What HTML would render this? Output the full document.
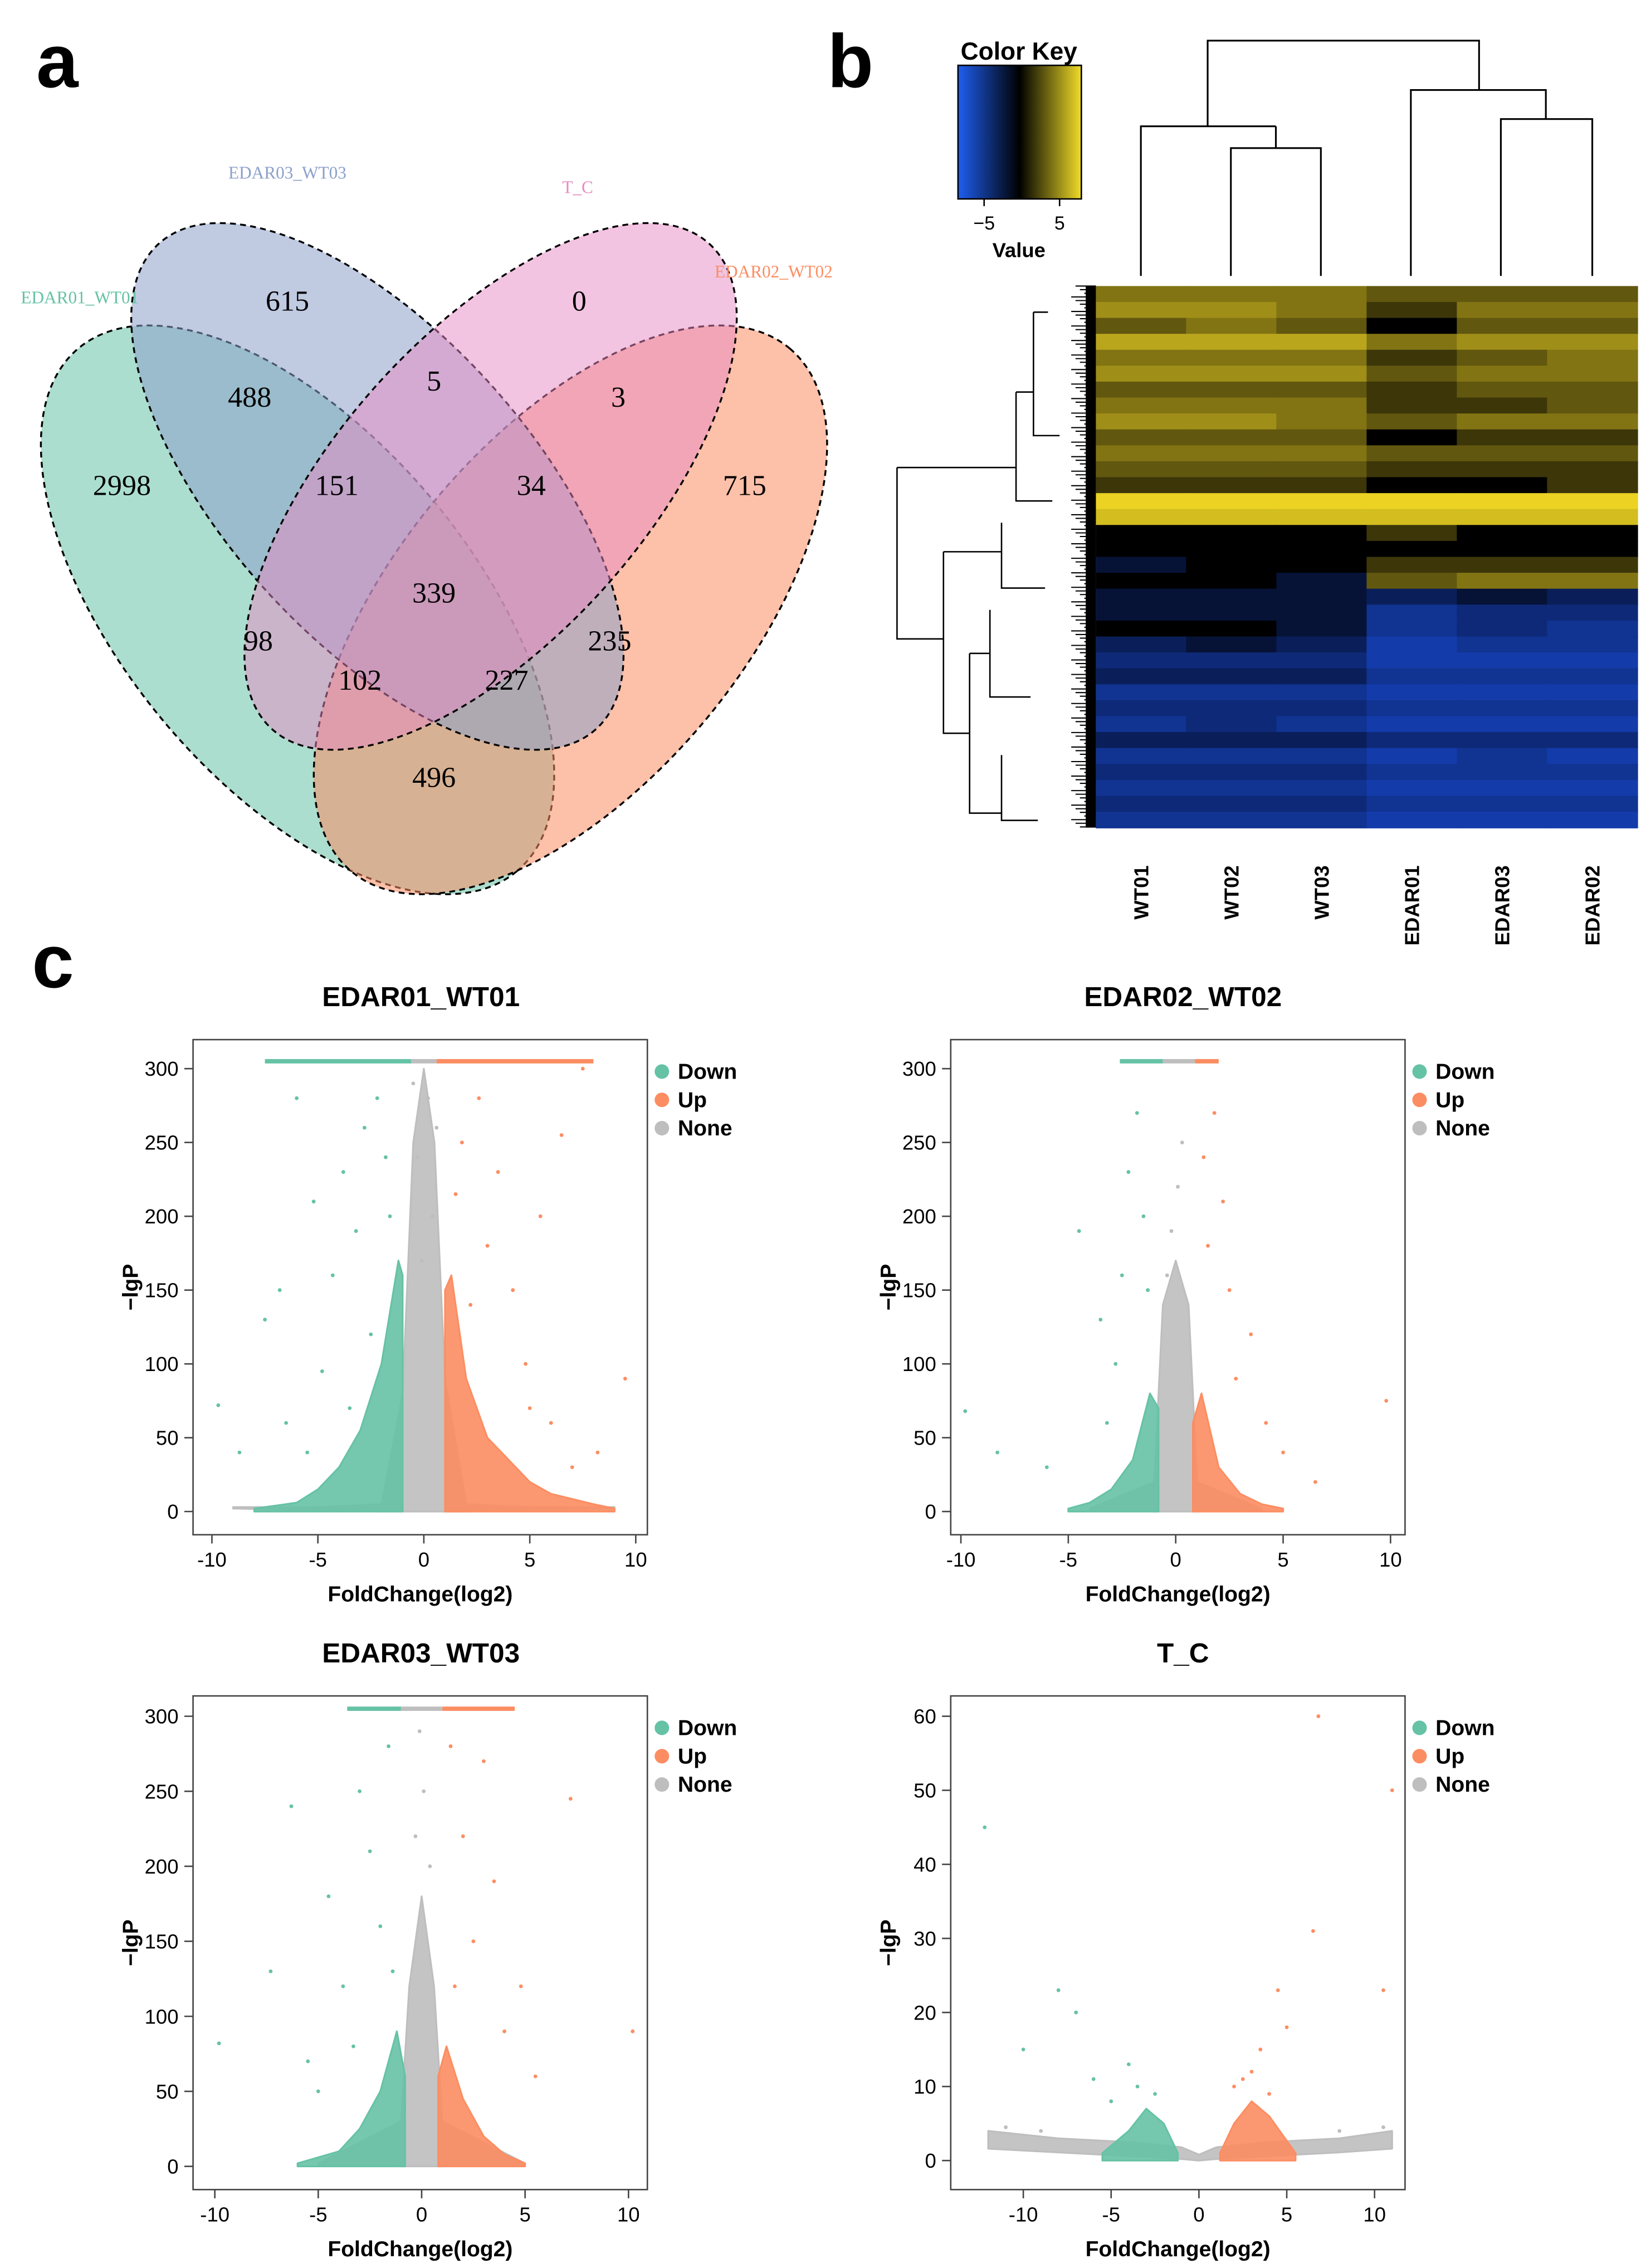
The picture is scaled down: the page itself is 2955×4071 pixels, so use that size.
<!DOCTYPE html>
<html><head><meta charset="utf-8">
<style>
html,body{margin:0;padding:0;background:#fff;}
svg{display:block;}
text{font-family:"Liberation Sans",sans-serif;}
.serif{font-family:"Liberation Serif",serif;}
</style></head>
<body>
<svg id="fig" width="2955" height="4071" viewBox="0 0 1134 1562" preserveAspectRatio="none" xmlns="http://www.w3.org/2000/svg">
<rect width="1134" height="1562" fill="#fff"/>
<text x="25" y="60" font-size="52" font-weight="bold">a</text>
<text x="570" y="60" font-size="52" font-weight="bold">b</text>
<text x="22" y="680" font-size="52" font-weight="bold">c</text>

<g id="venn">
<ellipse cx="205" cy="420" rx="235" ry="120" transform="rotate(50 205 420)" fill="#66c2a5" fill-opacity="0.55" stroke="#000" stroke-dasharray="4,3" stroke-width="1.3"/>
<ellipse cx="393" cy="420" rx="235" ry="120" transform="rotate(-50 393 420)" fill="#fc8d62" fill-opacity="0.55" stroke="#000" stroke-dasharray="4,3" stroke-width="1.3"/>
<ellipse cx="260" cy="335" rx="225" ry="105" transform="rotate(48 260 335)" fill="#8da0cb" fill-opacity="0.55" stroke="#000" stroke-dasharray="4,3" stroke-width="1.3"/>
<ellipse cx="338" cy="335" rx="225" ry="105" transform="rotate(-48 338 335)" fill="#e78ac3" fill-opacity="0.5" stroke="#000" stroke-dasharray="4,3" stroke-width="1.3"/>
<g font-size="12">
<text x="55" y="209" text-anchor="middle" fill="#66c2a5" class="serif">EDAR01_WT01</text>
<text x="198" y="123" text-anchor="middle" fill="#8da0cb" class="serif">EDAR03_WT03</text>
<text x="398" y="133" text-anchor="middle" fill="#e78ac3" class="serif">T_C</text>
<text x="533" y="191" text-anchor="middle" fill="#fc8d62" class="serif">EDAR02_WT02</text>
</g>
<g font-size="20" text-anchor="middle">
<text class="serif" x="198" y="214">615</text>
<text class="serif" x="399" y="214">0</text>
<text class="serif" x="172" y="280">488</text>
<text class="serif" x="299" y="269">5</text>
<text class="serif" x="426" y="280">3</text>
<text class="serif" x="84" y="341">2998</text>
<text class="serif" x="232" y="341">151</text>
<text class="serif" x="366" y="341">34</text>
<text class="serif" x="513" y="341">715</text>
<text class="serif" x="299" y="415">339</text>
<text class="serif" x="178" y="448">98</text>
<text class="serif" x="420" y="448">235</text>
<text class="serif" x="248" y="475">102</text>
<text class="serif" x="349" y="475">227</text>
<text class="serif" x="299" y="542">496</text>
</g>
</g>

<g id="heat">
<defs>
<linearGradient id="keyg" x1="0" x2="1" y1="0" y2="0">
<stop offset="0" stop-color="#1e5ef0"/><stop offset="0.5" stop-color="#000"/><stop offset="1" stop-color="#f0dc28"/>
</linearGradient>
</defs>
<text x="702" y="41" font-size="17" font-weight="bold" text-anchor="middle">Color Key</text>
<rect x="660" y="45" width="85" height="92" fill="url(#keyg)" stroke="#000" stroke-width="1"/>
<line x1="678" y1="137" x2="678" y2="142" stroke="#000"/><line x1="730" y1="137" x2="730" y2="142" stroke="#000"/>
<text x="678" y="158" font-size="13" text-anchor="middle">−5</text>
<text x="730" y="158" font-size="13" text-anchor="middle">5</text>
<text x="702" y="177" font-size="14" font-weight="bold" text-anchor="middle">Value</text>
<g id="heatcells"></g>
<g id="coldendro" stroke="#000" stroke-width="1.2" fill="none">
<path d="M786 190V87H879M848 190V102H910V190M879 102V87M786 87H879"/>
<path d="M832 87V28H1019V62M972 190V62H1065V82M1034 190V82H1097V190"/>
</g>
<g id="rowdendro" stroke="#000" stroke-width="1" fill="none">
<path d="M618 322V440H650M618 322H700M700 270V345H725M700 270H712M712 215V300H730M712 215H722M650 380V505H668M650 380H690M690 360V405H720M668 450V560H690M668 450H682M682 420V480H710M690 520V565H715"/>
</g>
</g>

<g id="volc"></g>
</svg>
<script>
// ---------- Heatmap data ----------
const heatCols = ["WT01","WT02","WT03","EDAR01","EDAR03","EDAR02"];
const heatRows = [
[3,3,3,2,2,2],[4,4,3,1,3,3],[2,3,2,0,2,2],[5,5,5,3,4,4],[3,3,3,1,2,3],[4,4,4,2,3,3],
[2,2,2,1,2,2],[3,3,3,1,1,2],[4,4,3,2,3,3],[2,2,2,0,1,1],[3,3,3,2,2,2],[2,2,2,1,1,1],
[1,1,1,0,0,1],[7,7,7,7,7,7],[6,6,6,6,6,6],[0,0,0,1,0,0],[0,0,0,0,0,0],[-1,0,0,1,1,1],
[0,0,-1,2,3,3],[-1,-1,-1,-2,-1,-2],[-1,-1,-1,-4,-3,-3],[0,0,-1,-4,-3,-4],[-2,-1,-2,-5,-4,-4],
[-3,-3,-3,-5,-5,-5],[-2,-2,-2,-4,-4,-4],[-4,-4,-4,-5,-5,-5],[-3,-3,-3,-4,-4,-4],
[-4,-3,-4,-5,-5,-5],[-2,-2,-2,-3,-3,-3],[-4,-4,-4,-5,-4,-5],[-3,-3,-3,-4,-4,-4],
[-4,-4,-4,-5,-5,-5],[-3,-3,-3,-4,-4,-4],[-4,-4,-4,-5,-5,-5]
];
const NS="http://www.w3.org/2000/svg";
function mk(tag,attrs,parent){const e=document.createElementNS(NS,tag);for(const k in attrs)e.setAttribute(k,attrs[k]);if(parent)parent.appendChild(e);return e;}
function heatColor(v){
  let t=Math.max(-1,Math.min(1,v/7));const a=Math.pow(Math.abs(t),0.7);
  const c=t>=0?[235,210,35]:[25,75,215];
  return `rgb(${Math.round(c[0]*a)},${Math.round(c[1]*a)},${Math.round(c[2]*a)})`;
}
(function(){
  const g=document.getElementById('heatcells');
  const x0=755,x1=1128,y0=197,y1=570;
  const cw=(x1-x0)/heatCols.length, rh=(y1-y0)/heatRows.length;
  heatRows.forEach((row,i)=>{row.forEach((v,j)=>{
    const r=mk('rect',{x:x0+j*cw,y:y0+i*rh,width:cw+0.5,height:rh+0.5,fill:heatColor(v)},g);
    
    
  });});
  heatCols.forEach((c,j)=>{
    const cx=x0+(j+0.5)*cw;
    const t=mk('text',{x:0,y:0,'font-size':14,'font-weight':'bold','text-anchor':'end',transform:`translate(${cx+5},596) rotate(-90)`},g);
    t.textContent=c;
    
    
  });
  const rd=document.getElementById('rowdendro');
  let k=0;
  for(let y=y0;y<=y1;y+=2.5){k++;mk('line',{x1:738+(k%4)*3,x2:755,y1:y,y2:y,'stroke-width':0.8},rd);}
  mk('rect',{x:748,y:y0,width:7,height:y1-y0,fill:'#000',stroke:'none'},rd);
})();

// ---------- Volcano data ----------
const volcTitles=["EDAR01_WT01","EDAR02_WT02","EDAR03_WT03","T_C"];
const xTicks1=[-10,-5,0,5,10], yTicks1=[0,50,100,150,200,250,300], yTicks4=[0,10,20,30,40,50,60];
const grayX=[[-9,-5,-2,-1,-0.5,0,0.5,1,2,5,9],[-4,-1,-0.6,0,0.6,1,4],[-5,-1,-0.6,0,0.6,1,5],[-12,-8,-4,-1,0,1,4,8,11]];
const grayY=[[3,3,5,80,250,300,250,90,5,3,3],[2,20,140,170,140,20,2],[2,30,120,180,120,30,2],[4,3,2.5,1.8,0.8,1.8,2.5,3,4]];
const grayLo=[[2,1,0,0,0,0,0,0,0,1,2],[1,0,0,0,0,0,1],[1,0,0,0,0,0,1],[1.6,1.1,0.6,0.2,0,0.2,0.6,1.1,1.6]];
const downX=[[-8,-6,-5,-4,-3,-2,-1.2,-1],[-5,-4,-3,-2,-1.2,-0.8],[-6,-4,-3,-2,-1.2,-0.8],[-5.5,-4,-3,-2,-1.2]];
const downY=[[2,6,15,30,55,100,170,160],[2,6,15,35,80,70],[2,10,25,50,90,60],[1,4,7,5,1]];
const upX=[[1,1.3,2,3,4,5,6,8,9],[0.8,1.2,2,3,4,5],[0.8,1.2,2,3,4,5],[1.2,2,3,4,5.5]];
const upY=[[150,160,90,50,35,20,12,5,2],[60,80,30,12,5,2],[60,80,45,20,8,2],[1,5,8,6,1]];
const capDown=[[-7.5,-0.6],[-2.6,-0.6],[-3.6,-1],null];
const capUp=[[0.6,8],[0.9,2],[1,4.5],null];
const capY=[305,305,305,null];
const ptsDown=[
[[-9.7,72],[-8.7,40],[-7.5,130],[-6.8,150],[-6,280],[-5.2,210],[-4.8,95],[-4.3,160],[-3.8,230],[-3.2,190],[-2.8,260],[-2.5,120],[-2.2,280],[-1.8,240],[-1.6,200],[-3.5,70],[-6.5,60],[-5.5,40]],
[[-9.8,68],[-8.3,40],[-6,30],[-4.5,190],[-3.5,130],[-2.8,100],[-2.2,230],[-1.8,270],[-1.5,200],[-2.5,160],[-3.2,60],[-1.3,150]],
[[-9.8,82],[-7.3,130],[-6.3,240],[-5.5,70],[-4.5,180],[-3.8,120],[-3,250],[-2.5,210],[-2,160],[-1.6,280],[-1.4,130],[-3.3,80],[-5,50]],
[[-12.2,45],[-10,15],[-8,23],[-7,20],[-6,11],[-4,13],[-3.5,10],[-2.5,9],[-5,8]]];
const ptsUp=[
[[9.5,90],[8.2,40],[7.5,300],[6.5,255],[5.5,200],[4.8,100],[4.2,150],[3.5,230],[3,180],[2.6,280],[2.2,140],[1.8,250],[1.5,215],[6,60],[7,30],[5,70]],
[[9.8,75],[6.5,20],[5,40],[4.2,60],[3.5,120],[2.8,90],[2.2,210],[1.8,270],[1.5,180],[1.3,240],[2.5,150]],
[[10.2,90],[7.2,245],[5.5,60],[4.8,120],[4,90],[3.5,190],[3,270],[2.5,150],[2,220],[1.6,120],[1.4,280]],
[[6.8,60],[11,50],[10.5,23],[6.5,31],[5,18],[4.5,23],[3.5,15],[3,12],[2.5,11],[4,9],[2,10]]];
const ptsGray=[
[[0.2,280],[-0.3,240],[0.4,200],[-0.1,170],[0.6,260],[-0.5,290]],
[[0.1,220],[-0.2,190],[0.3,250],[-0.4,160]],
[[0.1,250],[-0.3,220],[0.4,200],[-0.1,290]],
[[-11,4.5],[10.5,4.5],[-9,4],[8,4]]];

const panels=[
 {box:[133,716,446,1057],xd:[-10,10],xr:[146,438],yd:[0,300],yr:[1041,736],yt:yTicks1,tx:290,ty:693,lx:450,ly:738},
 {box:[655,716,968,1057],xd:[-10,10],xr:[662,958],yd:[0,300],yr:[1041,736],yt:yTicks1,tx:815,ty:693,lx:972,ly:738},
 {box:[133,1168,446,1508],xd:[-10,10],xr:[148,433],yd:[0,300],yr:[1492,1182],yt:yTicks1,tx:290,ty:1145,lx:450,ly:1190},
 {box:[655,1168,968,1508],xd:[-10,10],xr:[705,947],yd:[0,60],yr:[1488,1182],yt:yTicks4,tx:815,ty:1145,lx:972,ly:1190}];
const cGreen="#66c2a5",cOrange="#fc8d62",cGray="#bebebe";
(function(){
 const root=document.getElementById('volc');
 panels.forEach((p,i)=>{
  const g=mk('g',{},root);
  
  
  const X=v=>p.xr[0]+(v-p.xd[0])*(p.xr[1]-p.xr[0])/(p.xd[1]-p.xd[0]);
  const Y=v=>p.yr[0]+(v-p.yd[0])*(p.yr[1]-p.yr[0])/(p.yd[1]-p.yd[0]);
  const t=mk('text',{x:p.tx,y:p.ty,'font-size':19,'font-weight':'bold','text-anchor':'middle'},g);t.textContent=volcTitles[i];
  
  
  const env=(xs,ys,lo,col)=>{
    let d=`M${X(xs[0])},${Y(lo?lo[0]:0)}`;xs.forEach((x,k)=>{d+=`L${X(x)},${Y(ys[k])}`;});
    if(lo){for(let k=xs.length-1;k>=0;k--)d+=`L${X(xs[k])},${Y(lo[k])}`;}
    else d+=`L${X(xs[xs.length-1])},${Y(0)}`;
    d+='Z';
    const e=mk('path',{d:d,fill:col,'fill-opacity':0.9,stroke:col,'stroke-width':1.2,'stroke-linejoin':'round'},g);
    
    
  };
  env(grayX[i],grayY[i],grayLo[i],cGray);env(downX[i],downY[i],null,cGreen);env(upX[i],upY[i],null,cOrange);
  const dots=(arr,col)=>arr.forEach(q=>{const c=mk('circle',{cx:X(q[0]),cy:Y(q[1]),r:1.3,fill:col},g);
    
    });
  dots(ptsGray[i],cGray);dots(ptsDown[i],cGreen);dots(ptsUp[i],cOrange);
  if(capY[i]!==null){
    const cy=Y(capY[i]);
    const l1=mk('line',{x1:X(capDown[i][0]),x2:X(capDown[i][1]),y1:cy,y2:cy,stroke:cGreen,'stroke-width':3},g);
    
    const l0=mk('line',{x1:X(capDown[i][1]),x2:X(capUp[i][0]),y1:cy,y2:cy,stroke:cGray,'stroke-width':3},g);
    
    const l2=mk('line',{x1:X(capUp[i][0]),x2:X(capUp[i][1]),y1:cy,y2:cy,stroke:cOrange,'stroke-width':3},g);
    
  }
  const b=p.box;
  const fr=mk('rect',{x:b[0],y:b[1],width:b[2]-b[0],height:b[3]-b[1],fill:'none',stroke:'#444','stroke-width':1},g);
  
  xTicks1.forEach(v=>{const x=X(v);mk('line',{x1:x,x2:x,y1:b[3],y2:b[3]+6,stroke:'#444'},g);
    const tt=mk('text',{x:x,y:b[3]+22,'font-size':14,'text-anchor':'middle'},g);tt.textContent=v;
    });
  p.yt.forEach(v=>{const y=Y(v);mk('line',{x1:b[0]-6,x2:b[0],y1:y,y2:y,stroke:'#444'},g);
    const tt=mk('text',{x:b[0]-10,y:y+5,'font-size':14,'text-anchor':'end'},g);tt.textContent=v;
    });
  const xl=mk('text',{x:(b[0]+b[2])/2,y:b[3]+46,'font-size':15,'font-weight':'bold','text-anchor':'middle'},g);xl.textContent="FoldChange(log2)";
  
  const yc=(b[1]+b[3])/2;
  const yl=mk('text',{x:0,y:0,'font-size':15,'font-weight':'bold','text-anchor':'middle',transform:`translate(${b[0]-38},${yc}) rotate(-90)`},g);yl.textContent="−lgP";
  
  [["Down",cGreen],["Up",cOrange],["None",cGray]].forEach((L,k)=>{
    const ly=p.ly+k*19.5;
    const c=mk('circle',{cx:p.lx+6,cy:ly,r:5,fill:L[1]},g);
    
    const tt=mk('text',{x:p.lx+17,y:ly+5,'font-size':15,'font-weight':'bold'},g);tt.textContent=L[0];
    
  });
 });
})();
</script>
</body></html>
